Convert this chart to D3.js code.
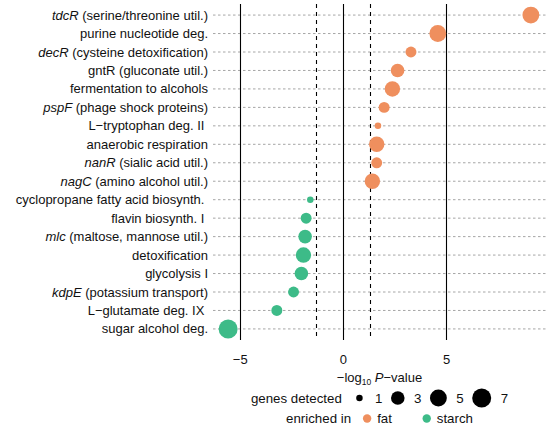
<!DOCTYPE html>
<html>
<head>
<meta charset="utf-8">
<script src="https://cdn.jsdelivr.net/npm/d3@7"></script>
<style>
  html, body { margin: 0; padding: 0; background: #fff; }
  svg { display: block; font-family: "Liberation Sans", Arial, Helvetica, sans-serif; }
  text { white-space: pre; }
</style>
</head>
<body>
<svg id="chart" width="546" height="429"></svg>
<script>
// Pathways / regulons, top to bottom. Gene names (italic) and descriptions.
const geneNames = ["tdcR", "", "decR", "", "", "pspF", "", "", "nanR", "nagC",
                   "", "", "mlc", "", "", "kdpE", "", ""];
const descriptions = [
  " (serine/threonine util.)", "purine nucleotide deg.", " (cysteine detoxification)",
  "gntR (gluconate util.)", "fermentation to alcohols", " (phage shock proteins)",
  "L\u2212tryptophan deg. II ", "anaerobic respiration", " (sialic acid util.)",
  " (amino alcohol util.)", "cyclopropane fatty acid biosynth. ", "flavin biosynth. I ",
  " (maltose, mannose util.)", "detoxification", "glycolysis I",
  " (potassium transport)", "L\u2212glutamate deg. IX ", "sugar alcohol deg."
];
// signed -log10 P-value (positive: enriched in fat, negative: enriched in starch)
const logP = [9.11, 4.60, 3.30, 2.65, 2.40, 2.00, 1.70, 1.64, 1.64, 1.43,
              -1.58, -1.78, -1.83, -1.91, -2.01, -2.39, -3.20, -5.56];
const genesDetected = [5, 5, 2, 3, 4, 2, 1, 4, 2, 4, 1, 2, 3, 4, 3, 2, 2, 7];
const enrichedIn = ["fat", "fat", "fat", "fat", "fat", "fat", "fat", "fat", "fat", "fat",
                    "starch", "starch", "starch", "starch", "starch", "starch", "starch", "starch"];

const xTicks = [-5, 0, 5];
const solidLines = [-5, 0, 5];
const dashedLines = [-1.301, 1.301];   // -log10(0.05)
const sizeBreaks = [1, 3, 5, 7];
const groups = ["fat", "starch"];
const groupColors = ["#EF8F5E", "#3DBB88"];

const rows = descriptions.map((d, i) => ({
  id: i, gene: geneNames[i], desc: descriptions[i],
  x: logP[i], n: genesDetected[i], group: enrichedIn[i]
}));

const svg = d3.select("#chart");
const panel = { left: 213, right: 546, top: 4, bottom: 340 };

// scales
const xMin = d3.min(logP), xMax = d3.max(logP), pad = (xMax - xMin) * 0.05;
const x = d3.scaleLinear().domain([xMin - pad, xMax + pad]).range([panel.left, panel.right]);
const y = d3.scalePoint().domain(rows.map(r => r.id)).range([panel.top, panel.bottom]).padding(0.6);
const r = d3.scaleLog().domain([1, 7]).range([3.25, 9.5]);
const color = d3.scaleOrdinal().domain(groups).range(groupColors);

// horizontal dashed grid lines
svg.append("g").selectAll("line").data(rows).join("line")
  .attr("x1", panel.left).attr("x2", panel.right)
  .attr("y1", d => y(d.id)).attr("y2", d => y(d.id))
  .attr("stroke", "#a6a6a6").attr("stroke-width", 1).attr("stroke-dasharray", "2.5,2.5");

// reference lines
svg.append("g").selectAll("line").data(solidLines).join("line")
  .attr("x1", d => Math.round(x(d)) + 0.5).attr("x2", d => Math.round(x(d)) + 0.5)
  .attr("y1", panel.top).attr("y2", panel.bottom)
  .attr("stroke", "#000").attr("stroke-width", 1.1);
svg.append("g").selectAll("line").data(dashedLines).join("line")
  .attr("x1", d => Math.round(x(d)) + 0.5).attr("x2", d => Math.round(x(d)) + 0.5)
  .attr("y1", panel.top).attr("y2", panel.bottom)
  .attr("stroke", "#000").attr("stroke-width", 1.1).attr("stroke-dasharray", "4,4");

// points
svg.append("g").selectAll("circle").data(rows).join("circle")
  .attr("cx", d => x(d.x)).attr("cy", d => y(d.id))
  .attr("r", d => r(d.n))
  .attr("fill", d => color(d.group));

// y labels with italic gene names
const yLab = svg.append("g").selectAll("text").data(rows).join("text")
  .attr("x", 208).attr("y", d => y(d.id)).attr("dy", "0.35em")
  .attr("text-anchor", "end").attr("font-size", 13).attr("fill", "#111");
yLab.append("tspan").attr("font-style", "italic").text(d => d.gene);
yLab.append("tspan").text(d => d.desc);

// x axis tick labels
const xAxis = d3.axisBottom(x).tickValues(xTicks).tickSize(0).tickPadding(0)
  .tickFormat(d => d < 0 ? "\u2212" + Math.abs(d) : String(d));
const gx = svg.append("g").attr("transform", `translate(0,${panel.bottom})`).call(xAxis);
gx.select(".domain").remove();
gx.selectAll("text").attr("y", 19).attr("dy", "0.35em")
  .attr("font-size", 13).attr("fill", "#111")
  .attr("font-family", "Liberation Sans, Arial, Helvetica, sans-serif");

// x axis title
const panelMid = (panel.left + panel.right) / 2;
const xt = svg.append("text").attr("x", panelMid).attr("y", 377).attr("dy", "0.35em")
  .attr("text-anchor", "middle").attr("font-size", 13).attr("fill", "#111");
xt.append("tspan").text("\u2212log");
xt.append("tspan").attr("font-size", 8.5).attr("dy", "0.35em").text("10");
xt.append("tspan").attr("dy", "-0.22em").text(" ");
xt.append("tspan").attr("font-style", "italic").text("P");
xt.append("tspan").text("\u2212value");

// legends
function legendRow(cy, title, items, opts) {
  const g = svg.append("g");
  const t = g.append("text").attr("x", 0).attr("y", cy).attr("dy", "0.35em")
    .attr("font-size", 13.3).attr("fill", "#111").text(title);
  let cursor = t.node().getComputedTextLength();
  const labelWidths = items.map(it => {
    const tmp = g.append("text").attr("font-size", 13.3).text(it.label);
    const w = tmp.node().getComputedTextLength(); tmp.remove(); return w;
  });
  const colW = opts.equalLabels ? d3.max(labelWidths) : null;
  items.forEach((it, i) => {
    cursor += i === 0 ? opts.firstGap : opts.gap;
    const half = Math.max(8.64, it.r + opts.keyPad);
    g.append("circle").attr("cx", cursor + half).attr("cy", cy).attr("r", it.r).attr("fill", it.fill);
    cursor += 2 * half + opts.labelGap;
    g.append("text").attr("x", cursor).attr("y", cy).attr("dy", "0.35em")
      .attr("font-size", 13.3).attr("fill", "#111").text(it.label);
    cursor += colW != null ? colW : labelWidths[i];
  });
  const bb = g.node().getBBox();
  g.attr("transform", `translate(${panelMid - (bb.x + bb.width / 2)},0)`);
}

legendRow(398, "genes detected",
  sizeBreaks.map(s => ({ r: r(s), fill: "#000", label: String(s) })),
  { firstGap: 9, gap: 6, labelGap: 7, keyPad: 2.5, equalLabels: false });

legendRow(418.5, "enriched in",
  groups.map(gname => ({ r: 4.2, fill: color(gname), label: gname })),
  { firstGap: 7.4, gap: 4.7, labelGap: 1.4, keyPad: 0, equalLabels: true });
</script>
</body>
</html>
